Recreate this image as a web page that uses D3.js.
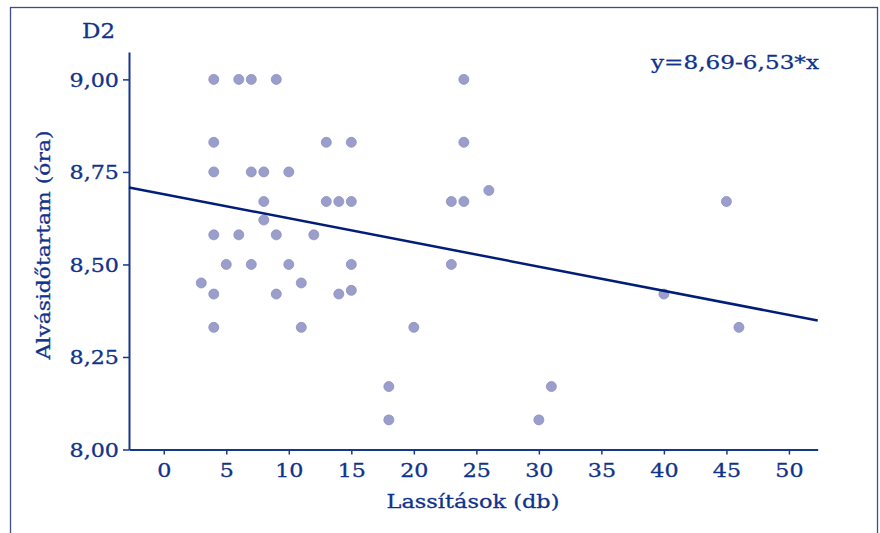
<!DOCTYPE html>
<html>
<head>
<meta charset="utf-8">
<script src="https://cdn.jsdelivr.net/npm/d3@7/dist/d3.min.js"></script>
<style>
  html, body { margin: 0; padding: 0; background: #ffffff; }
  svg { display: block; }
  text { font-family: "DejaVu Serif", "Liberation Serif", serif; fill: #10338a; stroke: #10338a; stroke-width: 0.3px; }
</style>
</head>
<body>
<svg id="chart" width="880" height="533"></svg>
<script>
// ---- data ----
const lassitasok = [3,4,4,4,4,4,4,5,6,6,7,7,7,8,8,8,9,9,9,10,10,11,11,12,13,13,14,14,15,15,15,15,18,18,20,23,23,24,24,24,26,30,31,40,45,46];
const alvasido   = [8.45,9.00,8.83,8.75,8.58,8.42,8.33,8.50,9.00,8.58,9.00,8.75,8.50,8.75,8.67,8.62,9.00,8.58,8.42,8.75,8.50,8.45,8.33,8.58,8.83,8.67,8.67,8.42,8.83,8.67,8.50,8.43,8.17,8.08,8.33,8.67,8.50,9.00,8.83,8.67,8.70,8.08,8.17,8.42,8.67,8.33];
const xTicks = [0,5,10,15,20,25,30,35,40,45,50];
const yTicks = [8.00,8.25,8.50,8.75,9.00];
const intercept = 8.69;
const slope = -0.00653;
const xDomain = [-2.78, 52.3];
const yDomain = [8.0, 9.074];
const title = "D2";
const equation = "y=8,69-6,53*x";
const xLabel = "Lassítások (db)";
const yLabel = "Alvásidőtartam (óra)";

// ---- layout ----
const svg = d3.select("#chart");
const axisColor = "#17378a";
const textColor = "#10338a";
const sx = 1.17;
const fs = 19;

svg.append("rect")
  .attr("x", 10.5).attr("y", 7.5)
  .attr("width", 867).attr("height", 560)
  .attr("fill", "none").attr("stroke", "#3f4c8c").attr("stroke-width", 1.3);

const x = d3.scaleLinear().domain(xDomain).range([129, 817.7]);
const y = d3.scaleLinear().domain(yDomain).range([449.5, 52]);

const fmt = d => d3.format(".2f")(d).replace(".", ",");

// x axis
const gx = svg.append("g").attr("transform", "translate(0,449.5)")
  .call(d3.axisBottom(x).tickValues(xTicks).tickSize(5).tickSizeOuter(0).tickPadding(6));
gx.select(".domain").attr("stroke", axisColor).attr("stroke-width", 2);
gx.selectAll(".tick line").attr("stroke", axisColor).attr("stroke-width", 1.5);
gx.selectAll(".tick text")
  .attr("font-size", fs).attr("font-family", "DejaVu Serif").attr("fill", textColor)
  .attr("y", 0).attr("dy", null)
  .attr("transform", `translate(0,27) scale(${sx},1)`);

// y axis
const gy = svg.append("g").attr("transform", "translate(129,0)")
  .call(d3.axisLeft(y).tickValues(yTicks).tickFormat(fmt).tickSize(6).tickSizeOuter(0).tickPadding(10));
gy.select(".domain").attr("stroke", axisColor).attr("stroke-width", 2);
gy.selectAll(".tick line").attr("stroke", axisColor).attr("stroke-width", 1.5);
gy.selectAll(".tick text")
  .attr("font-size", fs).attr("font-family", "DejaVu Serif").attr("fill", textColor)
  .attr("x", 0).attr("dy", null).attr("y", 0)
  .attr("transform", `translate(-10,7) scale(${sx},1)`);

// points
svg.append("g").selectAll("circle")
  .data(lassitasok.map((v, i) => [v, alvasido[i]]))
  .join("circle")
  .attr("cx", d => x(d[0]))
  .attr("cy", d => y(d[1]))
  .attr("r", 5)
  .attr("fill", "#9b9dcb")
  .attr("stroke", "#8d8fc2")
  .attr("stroke-width", 0.8);

// regression line
svg.append("line")
  .attr("x1", x(xDomain[0])).attr("y1", y(intercept + slope * xDomain[0]))
  .attr("x2", x(xDomain[1])).attr("y2", y(intercept + slope * xDomain[1]))
  .attr("stroke", "#021d78").attr("stroke-width", 2.5);

// texts
svg.append("text").attr("x", 82).attr("y", 37.5)
  .attr("font-size", 20).attr("textLength", 33).attr("lengthAdjust", "spacingAndGlyphs")
  .text(title);

svg.append("text").attr("x", 651).attr("y", 69)
  .attr("font-size", 19).attr("textLength", 168).attr("lengthAdjust", "spacingAndGlyphs")
  .text(equation);

svg.append("text").attr("x", 386.5).attr("y", 508)
  .attr("font-size", 19).attr("textLength", 173).attr("lengthAdjust", "spacingAndGlyphs")
  .text(xLabel);

svg.append("text")
  .attr("transform", "translate(50,359.5) rotate(-90)")
  .attr("font-size", 19).attr("textLength", 229).attr("lengthAdjust", "spacingAndGlyphs")
  .text(yLabel);
</script>
</body>
</html>
